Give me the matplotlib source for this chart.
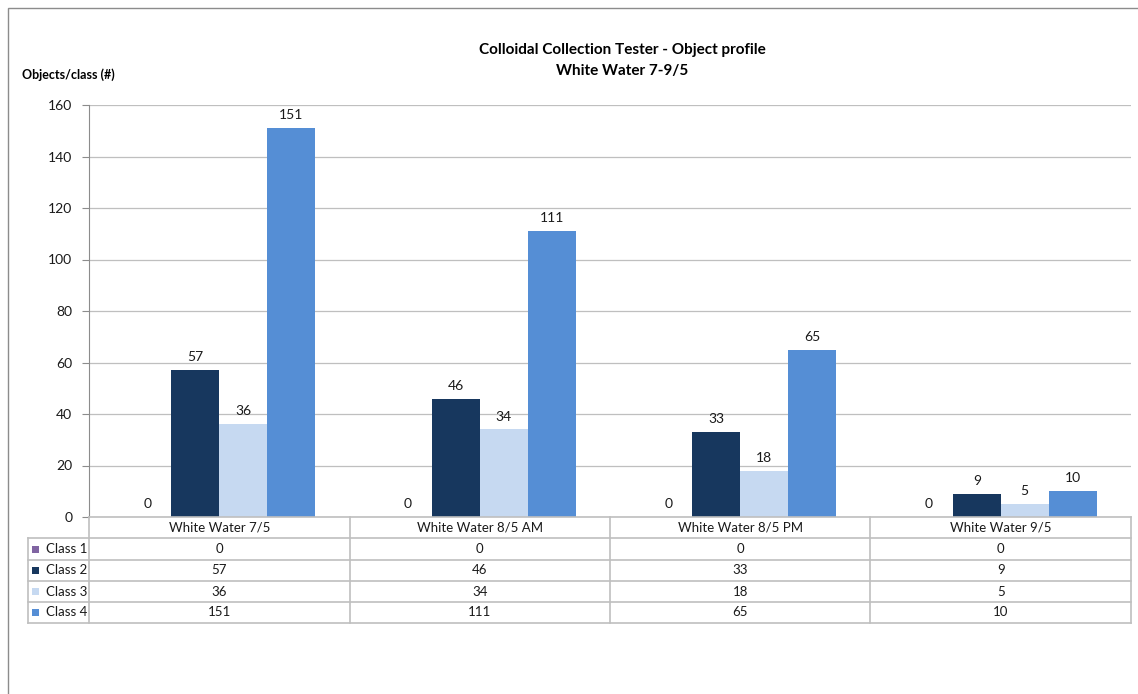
import matplotlib
matplotlib.use("Agg")
import matplotlib.pyplot as plt
import numpy as np
from matplotlib.patches import Rectangle
from matplotlib.lines import Line2D

categories = ["White Water 7/5", "White Water 8/5 AM", "White Water 8/5 PM", "White Water 9/5"]
series_names = ["Class 1", "Class 2", "Class 3", "Class 4"]
class1 = [0, 0, 0, 0]
class2 = [57, 46, 33, 9]
class3 = [36, 34, 18, 5]
class4 = [151, 111, 65, 10]
series_values = [class1, class2, class3, class4]
colors = ["#8064A2", "#17375E", "#C6D9F1", "#558ED5"]
yticks = [0, 20, 40, 60, 80, 100, 120, 140, 160]
title_lines = ["Colloidal Collection Tester - Object profile", "White Water 7-9/5"]

plt.rcParams["font.family"] = ["Lato", "DejaVu Sans"]

W, H = 1138, 694
fig = plt.figure(figsize=(W / 100, H / 100), dpi=100)

def fx(px):
    return px / W

def fy(py):
    return 1 - py / H

# outer chart frame
fig.add_artist(Rectangle((fx(8), fy(700)), fx(1140) - fx(8), fy(8) - fy(700),
                         transform=fig.transFigure, fill=False, ec="#8C8C8C", lw=1))

ax_l, ax_r, ax_t, ax_b = 89, 1131, 105, 517
ax = fig.add_axes([fx(ax_l), fy(ax_b), fx(ax_r - ax_l), fy(ax_t) - fy(ax_b)])

n = len(categories)
x = np.arange(n)
bw = 0.184
offsets = (np.arange(len(series_values)) - 1.5) * bw
for vals, off, col in zip(series_values, offsets, colors):
    bars = ax.bar(x + off, vals, width=bw, color=col, zorder=3)
    for b, v in zip(bars, vals):
        ax.annotate(f"{v}", (b.get_x() + b.get_width() / 2, v), xytext=(0, 5),
                    textcoords="offset points", ha="center", va="bottom",
                    fontsize=10, color="#1a1a1a")

ax.set_xlim(-0.5, n - 0.5)
ax.set_ylim(0, 160)
ax.set_yticks(yticks)
ax.set_yticklabels([str(t) for t in yticks], fontsize=10)
ax.yaxis.grid(True, color="#BFBFBF", lw=0.9, zorder=0)
ax.set_xticks([])
for s in ["top", "right", "bottom"]:
    ax.spines[s].set_visible(False)
ax.spines["left"].set_color("#8C8C8C")
ax.tick_params(axis="y", color="#8C8C8C", length=5, pad=7, labelcolor="#1a1a1a")

fig.text(fx(622), fy(50), title_lines[0], ha="center", va="center",
         fontsize=11, fontweight="bold")
fig.text(fx(622), fy(71), title_lines[1], ha="center", va="center",
         fontsize=11, fontweight="bold")
fig.text(fx(22), fy(75), "Objects/class (#)", ha="left", va="center",
         fontsize=9, fontweight="bold")

# data table below the plot
row_edges = [517, 538, 560, 581, 602, 623]
leg_l = 28
group_w = (ax_r - ax_l) / n
col_edges = [ax_l + i * group_w for i in range(n + 1)]
grid_c = "#BFBFBF"
tfs = 9.5

def hline(y, x0, x1):
    fig.add_artist(Line2D([fx(x0), fx(x1)], [fy(y), fy(y)], transform=fig.transFigure,
                          color=grid_c, lw=1.2))

def vline(xp, y0, y1):
    fig.add_artist(Line2D([fx(xp), fx(xp)], [fy(y0), fy(y1)], transform=fig.transFigure,
                          color=grid_c, lw=1.2))

for i, y in enumerate(row_edges):
    hline(y, leg_l if i >= 1 else ax_l, ax_r)
vline(leg_l, row_edges[1], row_edges[-1])
for xe in col_edges:
    vline(xe, row_edges[0], row_edges[-1])

for j, cat in enumerate(categories):
    cx = (col_edges[j] + col_edges[j + 1]) / 2
    fig.text(fx(cx), fy((row_edges[0] + row_edges[1]) / 2), cat, ha="center", va="center",
             fontsize=tfs, color="#1a1a1a")

for i, (name, vals, col) in enumerate(zip(series_names, series_values, colors)):
    cy = (row_edges[i + 1] + row_edges[i + 2]) / 2
    fig.add_artist(Rectangle((fx(32), fy(cy + 3.5)), fx(7), fy(cy - 3.5) - fy(cy + 3.5),
                             transform=fig.transFigure, color=col, lw=0))
    fig.text(fx(46), fy(cy), name, ha="left", va="center", fontsize=tfs, color="#1a1a1a")
    for j, v in enumerate(vals):
        cx = (col_edges[j] + col_edges[j + 1]) / 2
        fig.text(fx(cx), fy(cy), str(v), ha="center", va="center", fontsize=tfs, color="#1a1a1a")

fig.savefig("out.png", dpi=100, facecolor="white")
